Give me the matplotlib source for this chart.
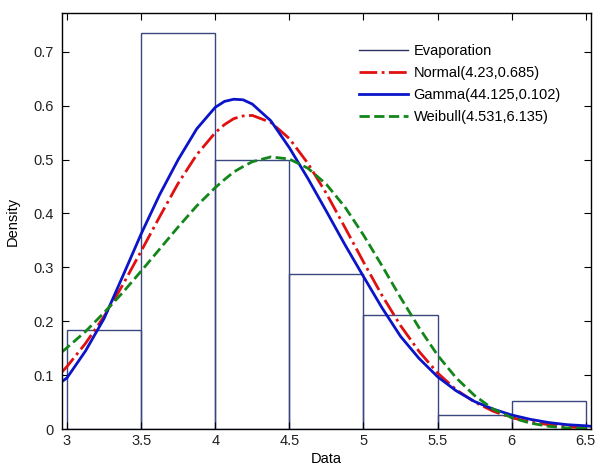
import numpy as np
import matplotlib
matplotlib.use("Agg")
import matplotlib.pyplot as plt

plt.rcParams['font.family'] = ['Liberation Sans', 'DejaVu Sans']

# histogram (density) of evaporation data
bin_edges = [3.0, 3.5, 4.0, 4.5, 5.0, 5.5, 6.0]
bin_heights = [0.183, 0.735, 0.500, 0.288, 0.211, 0.026, 0.052]

# fitted curves
x_fit = [2.966, 3.0, 3.125, 3.25, 3.375, 3.5, 3.625, 3.75, 3.875, 4.0, 4.0625, 4.125,
         4.1875, 4.25, 4.375, 4.5, 4.625, 4.75, 4.875, 5.0, 5.125, 5.25, 5.375, 5.5,
         5.625, 5.75, 5.875, 6.0, 6.125, 6.25, 6.375, 6.5, 6.535]
normal_y = [0.106, 0.116, 0.159, 0.209, 0.267, 0.330, 0.394, 0.456, 0.509, 0.550, 0.565, 0.576,
            0.581, 0.582, 0.569, 0.539, 0.493, 0.437, 0.374, 0.310, 0.248, 0.192, 0.144, 0.104,
            0.073, 0.050, 0.033, 0.021, 0.013, 0.008, 0.004, 0.002, 0.002]
gamma_y = [0.088, 0.095, 0.145, 0.205, 0.283, 0.362, 0.435, 0.500, 0.557, 0.597, 0.608, 0.612,
           0.611, 0.603, 0.572, 0.522, 0.465, 0.404, 0.342, 0.283, 0.225, 0.172, 0.131, 0.097,
           0.071, 0.051, 0.037, 0.026, 0.018, 0.012, 0.008, 0.006, 0.005]
weibull_y = [0.143, 0.151, 0.181, 0.216, 0.253, 0.293, 0.334, 0.375, 0.414, 0.448, 0.463, 0.477,
             0.487, 0.496, 0.505, 0.501, 0.484, 0.454, 0.412, 0.360, 0.303, 0.244, 0.188, 0.137,
             0.095, 0.062, 0.037, 0.021, 0.011, 0.005, 0.002, 0.001, 0.001]

labels = ['Evaporation', 'Normal(4.23,0.685)', 'Gamma(44.125,0.102)', 'Weibull(4.531,6.135)']

fig = plt.figure(figsize=(5.96, 4.70), dpi=100)
ax = fig.add_axes([0.104, 0.0872, 0.8876, 0.8851])

bars = ax.bar(bin_edges, bin_heights, width=0.5, align='edge', fill=False,
              edgecolor='#3a4680', linewidth=1.0)
ax.plot(x_fit, normal_y, color='#e01010', linestyle='-.', linewidth=2.0)
ax.plot(x_fit, gamma_y, color='#0a14c8', linestyle='-', linewidth=2.0)
ax.plot(x_fit, weibull_y, color='#13861a', linestyle='--', linewidth=2.0)

# legend handles
h_hist = plt.Line2D([], [], color='#2a3060', linewidth=1.0)
h_norm = plt.Line2D([], [], color='#e01010', linestyle='-.', linewidth=2.0)
h_gam = plt.Line2D([], [], color='#0a14c8', linestyle='-', linewidth=2.0)
h_wei = plt.Line2D([], [], color='#13861a', linestyle='--', linewidth=2.0)
ax.legend([h_hist, h_norm, h_gam, h_wei], labels, loc='upper left',
          bbox_to_anchor=(0.55, 0.94), frameon=False, fontsize=10.5,
          handlelength=3.4, handletextpad=0.35, labelspacing=0.55,
          borderaxespad=0)

ax.set_xlim(2.966, 6.535)
ax.set_ylim(0, 0.772)
ax.set_xticks([3, 3.5, 4, 4.5, 5, 5.5, 6, 6.5])
ax.set_xticklabels(['3', '3.5', '4', '4.5', '5', '5.5', '6', '6.5'])
ax.set_yticks([0, 0.1, 0.2, 0.3, 0.4, 0.5, 0.6, 0.7])
ax.set_yticklabels(['0', '0.1', '0.2', '0.3', '0.4', '0.5', '0.6', '0.7'])
ax.tick_params(direction='in', top=True, right=True, length=5, labelsize=10.5,
               labelcolor='#222222')
ax.tick_params(axis='y', pad=6)
for s in ax.spines.values():
    s.set_linewidth(1.0)
ax.set_xlabel('Data', fontsize=10.5, labelpad=3)
ax.set_ylabel('Density', fontsize=10.5, labelpad=10)

fig.savefig('out.png', dpi=100)
